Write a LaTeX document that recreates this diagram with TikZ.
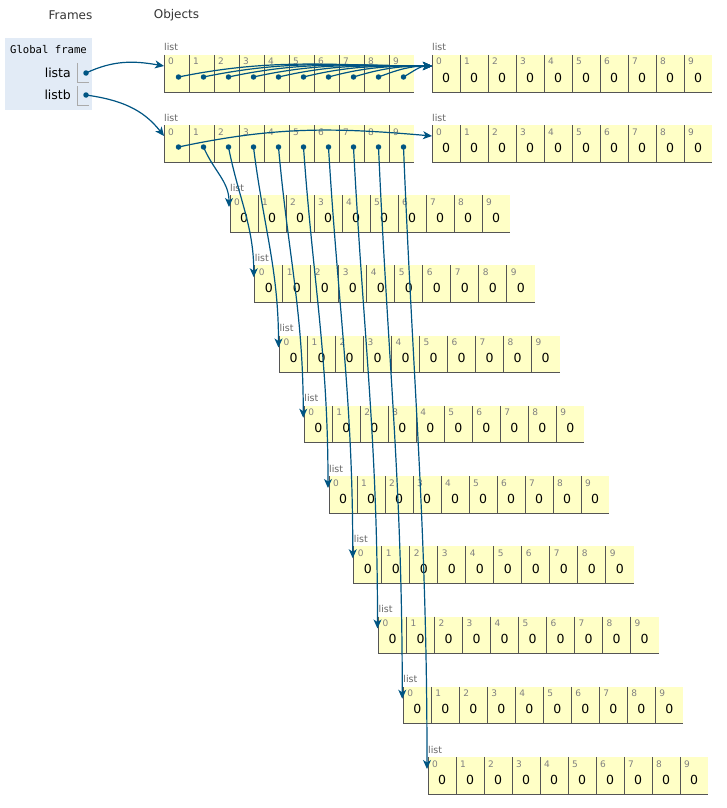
\documentclass[tikz,border=0pt]{standalone}
\usepackage{fontspec}
\setmainfont{DejaVu Sans}
\setmonofont{DejaVu Sans Mono}
\usepackage{tikz}
\usetikzlibrary{arrows.meta}
\definecolor{cellyellow}{HTML}{FFFFC6}
\definecolor{cellline}{HTML}{555555}
\definecolor{ptrblue}{HTML}{005583}
\definecolor{framebg}{HTML}{E2EBF6}
\definecolor{idxgray}{HTML}{808080}
\definecolor{headgray}{HTML}{333333}
\definecolor{varline}{HTML}{AAAAAA}
\newcommand{\IdxFont}{\fontsize{9}{10}\selectfont}
\newcommand{\ValFont}{\fontsize{12.5}{14}\selectfont}
\newcommand{\TagFont}{\fontsize{9.5}{11}\selectfont}
\newcommand{\HeadFont}{\fontsize{12}{14}\selectfont}

\begin{document}
\begin{tikzpicture}[x=1pt,y=1pt,
    refcell/.style={fill=cellyellow,minimum width=25pt,minimum height=37pt,inner sep=0pt,outer sep=0pt,anchor=north west},
    valcell/.style={refcell,minimum width=28pt},
    celledge/.style={draw=cellline,line width=1pt},
    idx/.style={anchor=base west,inner sep=0pt,text=idxgray,font=\IdxFont},
    val/.style={anchor=base,inner sep=0pt,font=\ValFont},
    listtag/.style={anchor=base west,inner sep=0pt,text=idxgray!80!black,font=\TagFont},
    heading/.style={text=headgray,font=\HeadFont},
    varname/.style={anchor=east,inner sep=0pt,font=\fontsize{12.5}{14}\selectfont},
    dot/.style={circle,fill=ptrblue,minimum size=5.5pt,inner sep=0pt},
    ptr/.style={draw=ptrblue,line width=1.2pt,-{Stealth[length=9pt,width=8pt,inset=2.5pt]}}]
  \useasboundingbox (0,0) rectangle (727,-808);

  % headings
  \node[heading] (hframes) at (70.5,-15) {Frames};
  \node[heading] (hobjects) at (176.5,-15) {Objects};

  % global frame
  \node[fill=framebg,minimum width=87pt,minimum height=72pt,inner sep=0pt,anchor=north west]
    (gframe) at (5,-38) {};
  \node[font=\ttfamily\fontsize{10.6}{12}\selectfont] (gtitle) at (48.5,-50) {Global frame};
  \node[varname] (va) at (71,-73) {lista};
  \node[varname] (vb) at (71,-95) {listb};
  \draw[varline,line width=0.8pt] (77,-63) -- (77,-82) -- (89,-82);
  \draw[varline,line width=0.8pt] (77,-86) -- (77,-105) -- (89,-105);
  \node[dot] (va-p) at (86,-73) {};
  \node[dot] (vb-p) at (86,-95) {};

  % lists holding references
  \foreach \lst/\x/\y in {la/164/55, lb/164/125} {
    \foreach \i in {0,...,9} {
      \node[refcell] (\lst-\i) at (\x+25*\i,-\y) {};
      \draw[celledge] (\lst-\i.north west) -- (\lst-\i.south west) -- (\lst-\i.south east);
      \node[idx] at ([xshift=4pt,yshift=-10pt]\lst-\i.north west) {\i};
      \node[dot] (\lst-\i-p) at ([xshift=2pt,yshift=-3.5pt]\lst-\i.center) {};
    }
    \node[listtag] (\lst-tag) at ([yshift=4pt]\lst-0.north west) {list};
    \coordinate (\lst-in) at ([yshift=-11pt]\lst-0.north west);
  }

  % lists of zeros
  \foreach \lst/\x/\y in {ai/432/55, bi/432/125, n1/230/195, n2/254.75/265.25,
      n3/279.5/335.5, n4/304.25/405.75, n5/329/476, n6/353.75/546.25,
      n7/378.5/616.5, n8/403.25/686.75, n9/428/757} {
    \foreach \i in {0,...,9} {
      \node[valcell] (\lst-\i) at (\x+28*\i,-\y) {};
      \draw[celledge] (\lst-\i.north west) -- (\lst-\i.south west) -- (\lst-\i.south east);
      \node[idx] at ([xshift=4pt,yshift=-10pt]\lst-\i.north west) {\i};
      \node[val] at ([xshift=14pt,yshift=-27pt]\lst-\i.north west) {0};
    }
    \node[listtag] (\lst-tag) at ([yshift=4pt]\lst-0.north west) {list};
    \coordinate (\lst-in) at ([yshift=-11pt]\lst-0.north west);
    \coordinate (\lst-top) at ([xshift=-1pt,yshift=-12pt]\lst-0.north west);
  }

  % references
  \draw[ptr] (va-p.center) to[out=25,in=170] (la-in);
  \draw[ptr] (vb-p.center) to[out=-8,in=128] (lb-in);
  \foreach \i in {0,...,9} {
    \pgfmathsetmacro{\ang}{atan(11/(253.5-25*\i))+9}
    \draw[ptr] (la-\i-p.center) to[out=\ang,in=180] (ai-in);
  }
  \draw[ptr] (lb-0-p.center) to[out=12,in=175] (bi-in);
  \foreach \k/\a in {1/-67,2/-79,3/-83,4/-85,5/-86,6/-86.6,7/-87,8/-87.5,9/-87.7}
    \draw[ptr] (lb-\k-p.center) to[out=\a,in=90] (n\k-top);
\end{tikzpicture}
\end{document}
